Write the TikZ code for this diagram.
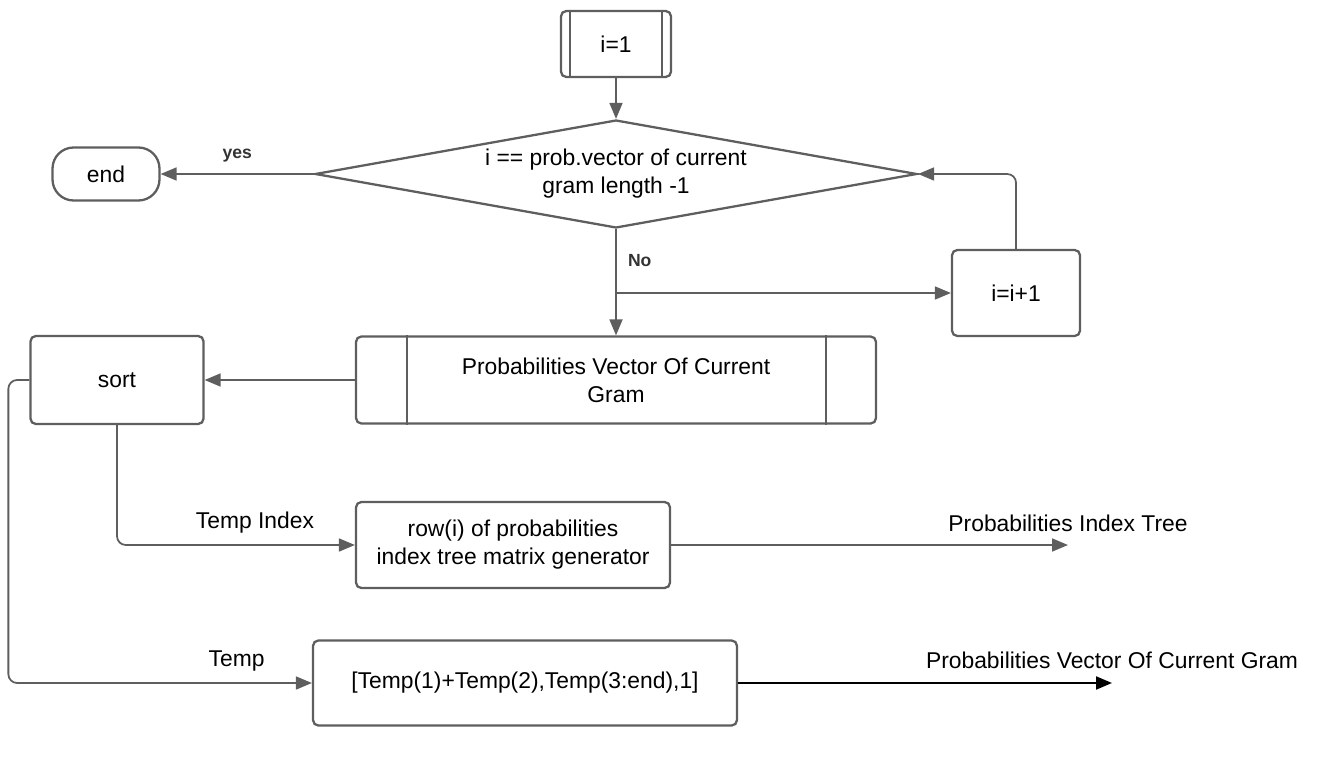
\documentclass[tikz,border=0pt]{standalone}
\usepackage{fontspec}
\setmainfont{Liberation Sans}
\usepackage{xcolor}
\usepackage{tikz}
\usetikzlibrary{arrows.meta}
\usetikzlibrary{shapes.geometric}
\usetikzlibrary{calc}

\definecolor{linegray}{HTML}{5E5E5E}

\begin{document}
\begin{tikzpicture}[x = 0.02cm, y = -0.02cm,
		box/.style = {draw = linegray, line width = 1.3pt, rounded corners = 3pt, inner sep = 0pt, align = center, font = \fontsize{13}{16}\selectfont},
		flow/.style = {draw = linegray, line width = 1pt, -{Triangle[length = 0.32cm, width = 0.26cm]}},
		tag/.style = {font = \fontsize{13}{16}\selectfont},
		flag/.style = {font = \fontsize{10}{12}\selectfont\bfseries, text = black!80}]
		\useasboundingbox (0,0) rectangle (1337,763);
		% boxes
		\node[box, minimum width = 2.2cm, minimum height = 1.32cm] (init) at (616,44) {i=1};
		\draw[linegray, line width = 1.3pt] ($(init.north west) + (10,0)$) -- ($(init.south west) + (10,0)$);
		\draw[linegray, line width = 1.3pt] ($(init.north east) + (-10,0)$) -- ($(init.south east) + (-10,0)$);
		\node[box, shape = diamond, rounded corners = 0pt, aspect = 5.57, minimum width = 12.04cm, minimum height = 2.16cm] (cond) at (616,174) {i == prob.vector of current\\gram length -1};
		\node[box, rounded corners = 12pt, minimum width = 2.14cm, minimum height = 1.06cm] (stop) at (106,174) {end};
		\node[box, minimum width = 2.56cm, minimum height = 1.72cm] (incr) at (1016,293) {i=i+1};
		\node[box, minimum width = 10.4cm, minimum height = 1.74cm] (pvec) at (616,380) {Probabilities Vector Of Current\\Gram};
		\draw[linegray, line width = 1.3pt] ($(pvec.north west) + (52,0)$) -- ($(pvec.south west) + (52,0)$);
		\draw[linegray, line width = 1.3pt] ($(pvec.north east) + (-51,0)$) -- ($(pvec.south east) + (-51,0)$);
		\node[box, minimum width = 3.46cm, minimum height = 1.76cm] (sort) at (117,380) {sort};
		\node[box, minimum width = 6.28cm, minimum height = 1.72cm] (tree) at (513,545) {row(i) of probabilities\\index tree matrix generator};
		\node[box, minimum width = 8.48cm, minimum height = 1.7cm] (merge) at (525,683) {[Temp(1)+Temp(2),Temp(3:end),1]};
		\coordinate (split) at (cond.south |- incr);
		\coordinate (treeout) at (1068,545);
		\coordinate (vecout) at (1112,683);
		% connectors
		\draw[flow] (init) -- (cond);
		\draw[flow] (cond.west) -- (stop) node[midway, above = 3pt, flag] {yes};
		\draw[flow] (cond.south) -- (pvec.north) node[pos = 0.3, right = 3pt, flag] {No};
		\draw[flow] (split) -- (incr.west);
		\draw[flow, rounded corners = 5pt] (incr.north) |- (cond.east);
		\draw[flow] (pvec.west) -- (sort.east);
		\draw[flow, rounded corners = 5pt] (sort.south) |- (tree.west) node[pos = 0.79, above = 3pt, tag] {Temp Index};
		\draw[flow] (tree.east) -- (treeout) node[above = 4pt, tag] {Probabilities Index Tree};
		\draw[flow, rounded corners = 5pt] (sort.west) -- ++(-21,0) |- (merge.west) node[pos = 0.876, above = 3pt, tag] {Temp};
		\draw[flow, draw = black, line width = 1.2pt] (merge.east) -- (vecout) node[above = 4pt, tag] {Probabilities Vector Of Current Gram};
	\end{tikzpicture}
\end{document}
